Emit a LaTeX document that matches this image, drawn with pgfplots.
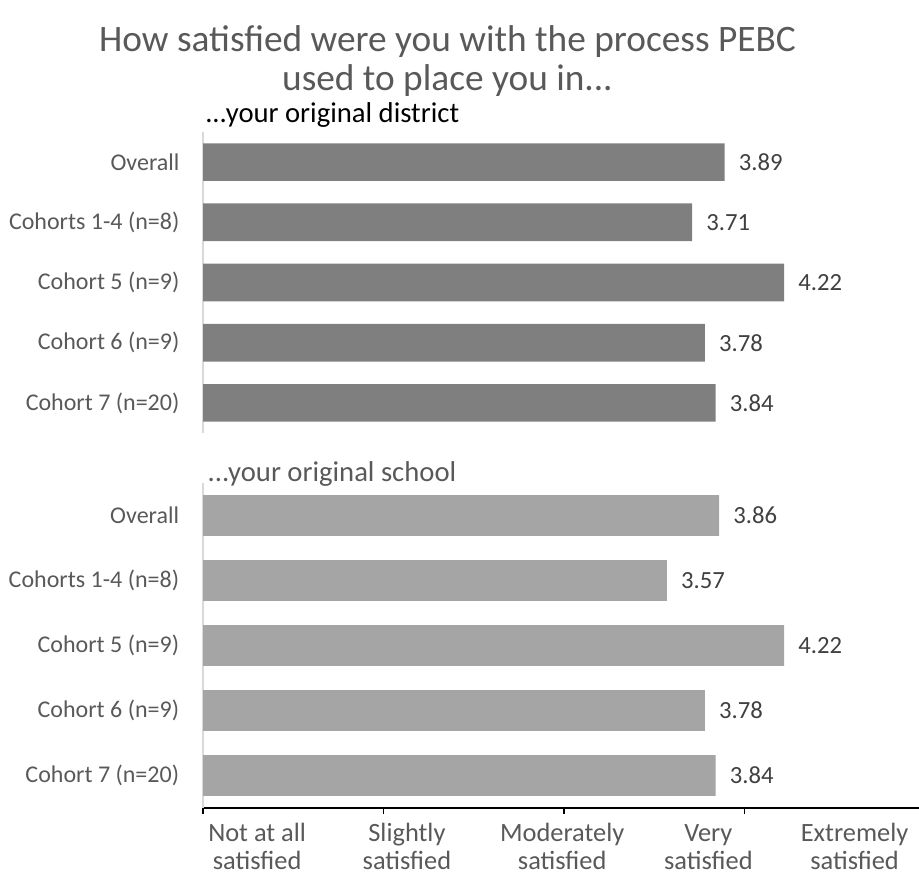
\documentclass[border=0pt]{standalone}
\usepackage{fontspec}
\setmainfont{Carlito}
\usepackage{pgfplots}
\pgfplotsset{compat=1.18}
\definecolor{txt}{HTML}{595959}
\definecolor{valc}{HTML}{404040}
\definecolor{barA}{HTML}{7F7F7F}
\definecolor{barB}{HTML}{A5A5A5}
\definecolor{axg}{HTML}{D9D9D9}
\begin{document}
\begin{tikzpicture}
\useasboundingbox (0,0) rectangle (689.25pt,-656.25pt);
\pgfplotsset{
  panel/.style={
    scale only axis, width=537pt,
    xmin=1, xmax=4.967, ymin=-0.5, ymax=4.5,
    xbar, bar width=0.625, bar shift=0pt,
    ytick={0,1,2,3,4},
    yticklabels={{Cohort 7 (n=20)},{Cohort 6 (n=9)},{Cohort 5 (n=9)},{Cohorts 1-4 (n=8)},{Overall}},
    y tick style={draw=none},
    yticklabel style={font=\fontsize{18}{22}\selectfont, text=txt, anchor=east, inner sep=0pt, xshift=-13.25pt},
    y axis line style={draw=axg, line width=1.5pt},
    nodes near coords, point meta=explicit symbolic,
    nodes near coords style={anchor=west, inner sep=0pt, xshift=10.5pt, font=\fontsize{18.5}{22}\selectfont, text=valc},
    clip=false,
  }
}
\begin{axis}[panel, at={(152.25pt,-99pt)}, anchor=north west, height=225.75pt,
  axis x line=none, axis y line*=left]
\addplot[fill=barA, draw=none] coordinates {
  (3.84,0) [3.84]
  (3.78,1) [3.78]
  (4.22,2) [4.22]
  (3.71,3) [3.71]
  (3.89,4) [3.89]
};
\end{axis}
\begin{axis}[panel, at={(152.25pt,-362.25pt)}, anchor=north west, height=243.75pt,
  axis lines*=left,
  x axis line style={draw=black, line width=1.5pt},
  xtick={1,2,3,4,5}, xticklabels={{},{},{},{},{}},
  x tick style={draw=black, line width=1pt}, major tick length=4.5pt, tick align=outside,
  extra x ticks={1.30,2.13,2.99,3.80,4.61},
  extra x tick labels={{Not at all\\satisfied},{Slightly\\satisfied},{Moderately\\satisfied},{Very\vphantom{l}\\satisfied},{Extremely\\satisfied}},
  extra x tick style={major tick length=0pt, xticklabel style={align=center, font=\fontsize{19.8}{21}\selectfont, text=txt, inner sep=0pt, yshift=-11.25pt}}]
\addplot[fill=barB, draw=none] coordinates {
  (3.84,0) [3.84]
  (3.78,1) [3.78]
  (4.22,2) [4.22]
  (3.57,3) [3.57]
  (3.86,4) [3.86]
};
\end{axis}
\node[anchor=base, inner sep=0pt, font=\fontsize{28}{31}\selectfont, text=txt] at (335.6pt,-38.25pt) {How satisfied were you with the process PEBC};
\node[anchor=base, inner sep=0pt, font=\fontsize{28}{31}\selectfont, text=txt] at (335.6pt,-67.5pt) {used to place you in...};
\node[anchor=base west, inner sep=0pt, font=\fontsize{21.5}{24}\selectfont, text=black] at (153.75pt,-91.5pt) {...your original district};
\node[anchor=base west, inner sep=0pt, font=\fontsize{21.5}{24}\selectfont, text=txt] at (155.5pt,-360.75pt) {...your original school};
\end{tikzpicture}
\end{document}
